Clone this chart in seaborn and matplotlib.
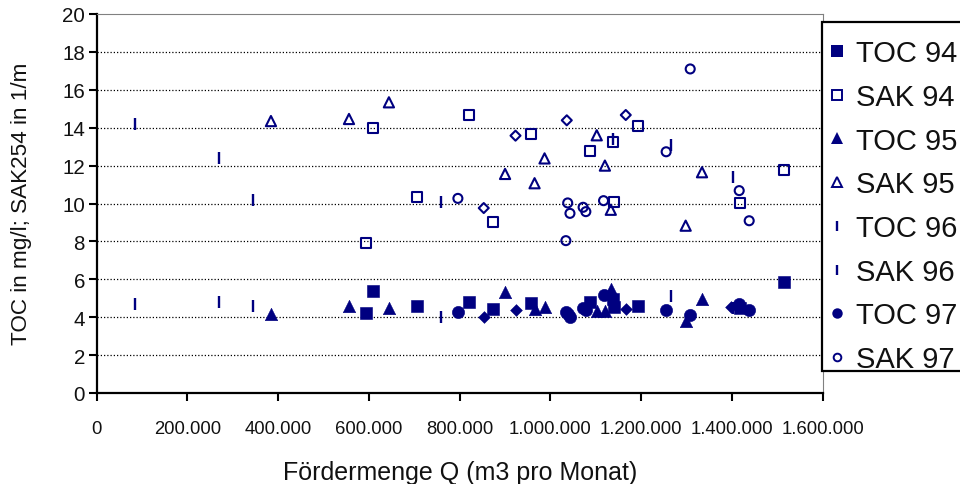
import matplotlib
matplotlib.use("Agg")
import matplotlib.pyplot as plt
import seaborn as sns
import pandas as pd
from matplotlib.lines import Line2D
from matplotlib.patches import Rectangle
from matplotlib.ticker import FuncFormatter, MultipleLocator

# ---- data (Fördermenge in m3/Monat, values in mg/l resp. 1/m) ----
toc94_x = [593000, 608000, 705000, 820000, 873000, 957000, 1088000, 1137000, 1139000, 1192000, 1418000, 1515000]
toc94_y = [4.2, 5.37, 4.61, 4.82, 4.43, 4.75, 4.78, 4.95, 4.55, 4.61, 4.47, 5.87]
sak94_x = [593000, 608000, 705000, 820000, 873000, 957000, 1088000, 1137000, 1139000, 1192000, 1418000, 1515000]
sak94_y = [7.9, 13.97, 10.33, 14.67, 9.04, 13.67, 12.79, 13.26, 10.1, 14.1, 10.03, 11.78]

toc95_x = [384000, 556000, 644000, 900000, 965000, 987000, 1102000, 1120000, 1133000, 1298000, 1334000]
toc95_y = [4.17, 4.57, 4.47, 5.35, 4.43, 4.52, 4.34, 4.34, 5.49, 3.82, 4.96]
sak95_x = [384000, 556000, 644000, 900000, 965000, 987000, 1102000, 1120000, 1133000, 1298000, 1334000]
sak95_y = [14.35, 14.46, 15.34, 11.56, 11.07, 12.38, 13.6, 12.0, 9.67, 8.83, 11.65]

toc96_x = [84000, 270000, 345000, 759000, 1137000, 1265000, 1403000]
toc96_y = [4.70, 4.82, 4.61, 3.99, 4.6, 5.14, 4.5]
sak96_x = [84000, 270000, 345000, 759000, 1137000, 1265000, 1403000]
sak96_y = [14.2, 12.4, 10.2, 10.1, 13.4, 13.1, 11.38]

toc97_x = [796000, 1034000, 1038000, 1043000, 1072000, 1078000, 1117000, 1255000, 1308000, 1416000, 1438000]
toc97_y = [4.26, 4.25, 4.15, 4.0, 4.47, 4.4, 5.17, 4.40, 4.12, 4.70, 4.40]
sak97_x = [796000, 1034000, 1038000, 1043000, 1072000, 1078000, 1117000, 1255000, 1308000, 1416000, 1438000]
sak97_y = [10.27, 8.04, 10.03, 9.48, 9.8, 9.57, 10.15, 12.73, 17.1, 10.68, 9.09]

# diamond series (not listed in the legend)
toc98_x = [853000, 923000, 1036000, 1166000, 1399000]
toc98_y = [3.99, 4.38, 4.2, 4.43, 4.55]
sak98_x = [853000, 923000, 1036000, 1166000]
sak98_y = [9.76, 13.58, 14.39, 14.67]

legend_labels = ["TOC 94", "SAK 94", "TOC 95", "SAK 95", "TOC 96", "SAK 96", "TOC 97", "SAK 97"]
x_label = "Fördermenge Q (m3 pro Monat)"
y_label = "TOC in mg/l; SAK254 in 1/m"

NAVY = "#000080"

sns.set_theme(style="white")
plt.rcParams["font.family"] = ["Liberation Sans", "DejaVu Sans"]

fig = plt.figure(figsize=(9.6, 4.85), dpi=100)
W, H = 960.0, 485.0
ax_l, ax_r, ax_t, ax_b = 96.7, 822.7, 15.0, 394.0
ax = fig.add_axes([ax_l / W, 1 - ax_b / H, (ax_r - ax_l) / W, (ax_b - ax_t) / H])

def filled(xs, ys, marker, s):
    sns.scatterplot(x=xs, y=ys, ax=ax, marker=marker, s=s, color=NAVY,
                    edgecolor=NAVY, linewidth=0.4, legend=False, zorder=3)

def hollow(xs, ys, marker, s, lw=1.5):
    sns.scatterplot(x=xs, y=ys, ax=ax, marker=marker, s=s, color=NAVY,
                    facecolor="none", edgecolor=NAVY, linewidth=lw,
                    legend=False, zorder=3)

def bar(xs, ys, s):
    sns.scatterplot(x=xs, y=ys, ax=ax, marker="|", s=s, color=NAVY,
                    linewidth=1.7, legend=False, zorder=3)

filled(toc98_x, toc98_y, "D", 36)
hollow(sak98_x, sak98_y, "D", 26)
filled(toc94_x, toc94_y, "s", 68)
hollow(sak94_x, sak94_y, "s", 52)
filled(toc95_x, toc95_y, "^", 80)
hollow(sak95_x, sak95_y, "^", 54)
bar(toc96_x, toc96_y, 85)
bar(sak96_x, sak96_y, 85)
filled(toc97_x, toc97_y, "o", 78)
hollow(sak97_x, sak97_y, "o", 42)

ax.set_xlim(0, 1600000)
ax.set_ylim(0, 20)
ax.xaxis.set_major_locator(MultipleLocator(200000))
ax.yaxis.set_major_locator(MultipleLocator(2))
ax.xaxis.set_major_formatter(FuncFormatter(lambda v, p: f"{int(round(v)):,}".replace(",", ".")))
ax.yaxis.set_major_formatter(FuncFormatter(lambda v, p: f"{int(round(v))}"))
ax.set_xlabel("")
ax.set_ylabel("")

ax.grid(False)
ax.yaxis.grid(True, color="black", linestyle=(0, (1.0, 1.6)), linewidth=0.9)
ax.set_axisbelow(True)
for gl, val in zip(ax.get_ygridlines(), ax.get_yticks()):
    if val <= 0 or val >= 20:
        gl.set_visible(False)

for side in ["left", "bottom"]:
    ax.spines[side].set_color("black")
    ax.spines[side].set_linewidth(1.6)
for side in ["top", "right"]:
    ax.spines[side].set_color("#808080")
    ax.spines[side].set_linewidth(0.8)

ax.tick_params(axis="both", which="major", direction="out", length=5.5, width=1.5,
               color="black", left=True, bottom=True)
ax.tick_params(axis="x", labelsize=13.3, pad=14, labelcolor="#111111")
ax.tick_params(axis="y", labelsize=14.8, pad=3, labelcolor="#111111")

fig.text(22 / W, 1 - 204 / H, y_label, rotation=90, ha="center", va="center",
         fontsize=16.2, color="#111111")
fig.text(460 / W, 1 - 480 / H, x_label, ha="center", va="baseline",
         fontsize=18, color="#111111")

# legend frame (extends past the right edge as in the original)
frame = Rectangle((822 / W, 1 - 372 / H), 200 / W, (372 - 22.7) / H,
                  transform=fig.transFigure, facecolor="white", edgecolor="black",
                  linewidth=1.6, zorder=2)
fig.add_artist(frame)

handles = [
    Line2D([], [], linestyle="none", marker="s", markersize=8.4, color=NAVY, markeredgewidth=0),
    Line2D([], [], linestyle="none", marker="s", markersize=6.8, markerfacecolor="none",
           markeredgecolor=NAVY, markeredgewidth=1.4),
    Line2D([], [], linestyle="none", marker="^", markersize=8.4, color=NAVY, markeredgewidth=0),
    Line2D([], [], linestyle="none", marker="^", markersize=6.5, markerfacecolor="none",
           markeredgecolor=NAVY, markeredgewidth=1.4),
    Line2D([], [], linestyle="none", marker="|", markersize=7.5, color=NAVY, markeredgewidth=1.7),
    Line2D([], [], linestyle="none", marker="|", markersize=7.5, color=NAVY, markeredgewidth=1.7),
    Line2D([], [], linestyle="none", marker="o", markersize=7.5, color=NAVY, markeredgewidth=0),
    Line2D([], [], linestyle="none", marker="o", markersize=5.5, markerfacecolor="none",
           markeredgecolor=NAVY, markeredgewidth=1.4),
]
leg = fig.legend(handles, legend_labels, loc="upper left",
                 bbox_to_anchor=(826 / W, 1 - 40 / H), bbox_transform=fig.transFigure,
                 frameon=False, borderpad=0, borderaxespad=0, fontsize=21,
                 labelspacing=0.54, handlelength=0.78, handletextpad=0.24,
                 labelcolor="#111111")
leg.set_zorder(5)

fig.savefig("out.png", dpi=100)
